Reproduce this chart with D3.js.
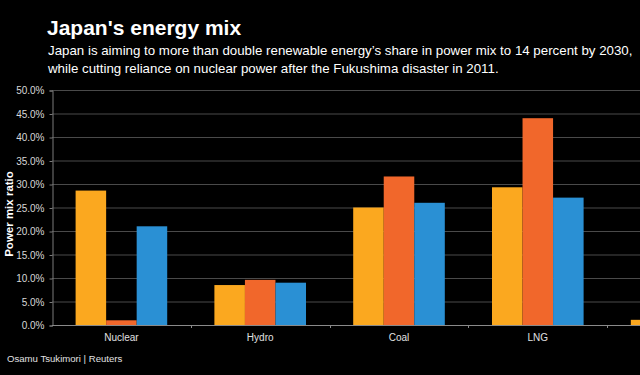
<!DOCTYPE html>
<html>
<head>
<meta charset="utf-8">
<script src="https://cdn.jsdelivr.net/npm/d3@7"></script>
<style>
  body { margin: 0; background: #000; }
  svg { display: block; background: #000; }
</style>
</head>
<body>
<svg id="chart"></svg>
<script>
const categories = ["Nuclear", "Hydro", "Coal", "LNG", "Renewables"];
const seriesNames = ["2010", "2013", "2030"];
const values2010 = [28.6, 8.5, 25.0, 29.3, 1.1];
const values2013 = [1.0, 9.6, 31.6, 44.0, 2.2];
const values2030 = [21.0, 9.0, 26.0, 27.1, 13.5];
const yTicks = [0, 5, 10, 15, 20, 25, 30, 35, 40, 45, 50];
const colors = ["#fba81f", "#f1672b", "#2a90d4"];

const width = 640;
const height = 375;
const plotLeft = 52;
const plotRight = 746;   // chart runs past the right edge, as in the original
const plotTop = 90;
const plotBottom = 325;

const series = [values2010, values2013, values2030];
const rows = categories.map((c, i) => ({
  category: c,
  values: series.map((s, j) => ({ key: seriesNames[j], value: s[i], color: colors[j] }))
}));

const svg = d3.select("#chart")
  .attr("width", width)
  .attr("height", height);

const x0 = d3.scaleBand()
  .domain(categories)
  .range([plotLeft, plotRight])
  .paddingInner(0.34)
  .paddingOuter(0.17);

const x1 = d3.scaleBand()
  .domain(seriesNames)
  .range([0, x0.bandwidth()]);

const y = d3.scaleLinear()
  .domain([0, 50])
  .range([plotBottom, plotTop]);

// gridlines
svg.append("g")
  .selectAll("line")
  .data(yTicks.slice(1))
  .enter()
  .append("line")
  .attr("x1", plotLeft)
  .attr("x2", width)
  .attr("y1", d => y(d) + 0.5)
  .attr("y2", d => y(d) + 0.5)
  .attr("stroke", "#4a4a4a")
  .attr("stroke-width", 1);

// y axis
const yAxis = d3.axisLeft(y)
  .tickValues(yTicks)
  .tickFormat(d => d.toFixed(1) + "%")
  .tickSize(3)
  .tickPadding(5);

const yG = svg.append("g")
  .attr("transform", "translate(" + (plotLeft + 0.5) + ",0.5)")
  .call(yAxis);
yG.select(".domain").attr("stroke", "#7a7a7a");
yG.selectAll(".tick line").attr("stroke", "#7a7a7a");
yG.selectAll(".tick text")
  .attr("fill", "#d8d8d8")
  .attr("font-family", "Liberation Sans, Arial, sans-serif")
  .attr("font-size", "10px");

// bars
svg.append("g")
  .selectAll("g")
  .data(rows)
  .enter()
  .append("g")
  .attr("transform", d => "translate(" + x0(d.category) + ",0)")
  .selectAll("rect")
  .data(d => d.values)
  .enter()
  .append("rect")
  .attr("x", d => x1(d.key))
  .attr("width", x1.bandwidth())
  .attr("y", d => y(d.value))
  .attr("height", d => y(0) - y(d.value))
  .attr("fill", d => d.color);

// x axis: ticks at the category boundaries
const boundaries = d3.range(categories.length + 1)
  .map(i => plotLeft + i * x0.step());

svg.append("line")
  .attr("x1", plotLeft)
  .attr("x2", plotRight)
  .attr("y1", plotBottom + 0.5)
  .attr("y2", plotBottom + 0.5)
  .attr("stroke", "#8a8a8a");

svg.append("g")
  .selectAll("line")
  .data(boundaries.slice(1))
  .enter()
  .append("line")
  .attr("x1", d => Math.round(d) + 0.5)
  .attr("x2", d => Math.round(d) + 0.5)
  .attr("y1", plotBottom)
  .attr("y2", plotBottom + 3)
  .attr("stroke", "#8a8a8a");

// category labels; the last one sits past the picture's edge, so leave it out
svg.append("g")
  .selectAll("text")
  .data(categories.filter(d => x0(d) + x0.bandwidth() <= width))
  .enter()
  .append("text")
  .attr("x", d => x0(d) + x0.bandwidth() / 2)
  .attr("y", plotBottom + 16)
  .attr("text-anchor", "middle")
  .attr("fill", "#e0e0e0")
  .attr("font-family", "Liberation Sans, Arial, sans-serif")
  .attr("font-size", "10px")
  .text(d => d);

// y axis title
svg.append("text")
  .attr("transform", "rotate(-90)")
  .attr("x", -214)
  .attr("y", 13)
  .attr("text-anchor", "middle")
  .attr("fill", "#ffffff")
  .attr("font-family", "Liberation Sans, Arial, sans-serif")
  .attr("font-weight", "bold")
  .attr("font-size", "11.5px")
  .text("Power mix ratio");

// titles
svg.append("text")
  .attr("x", 47)
  .attr("y", 35)
  .attr("fill", "#ffffff")
  .attr("font-family", "Liberation Sans, Arial, sans-serif")
  .attr("font-weight", "bold")
  .attr("font-size", "21px")
  .text("Japan's energy mix");

const subtitle = [
  "Japan is aiming to more than double renewable energy\u2019s share in power mix to 14 percent by 2030,",
  "while cutting reliance on nuclear power after the Fukushima disaster in 2011."
];
svg.append("g")
  .selectAll("text")
  .data(subtitle)
  .enter()
  .append("text")
  .attr("x", 48)
  .attr("y", (d, i) => 55 + i * 18)
  .attr("fill", "#ffffff")
  .attr("font-family", "Liberation Sans, Arial, sans-serif")
  .attr("font-size", "13.3px")
  .text(d => d);

svg.append("text")
  .attr("x", 7)
  .attr("y", 362)
  .attr("fill", "#e0e0e0")
  .attr("font-family", "Liberation Sans, Arial, sans-serif")
  .attr("font-size", "9.6px")
  .text("Osamu Tsukimori | Reuters");
</script>
</body>
</html>
